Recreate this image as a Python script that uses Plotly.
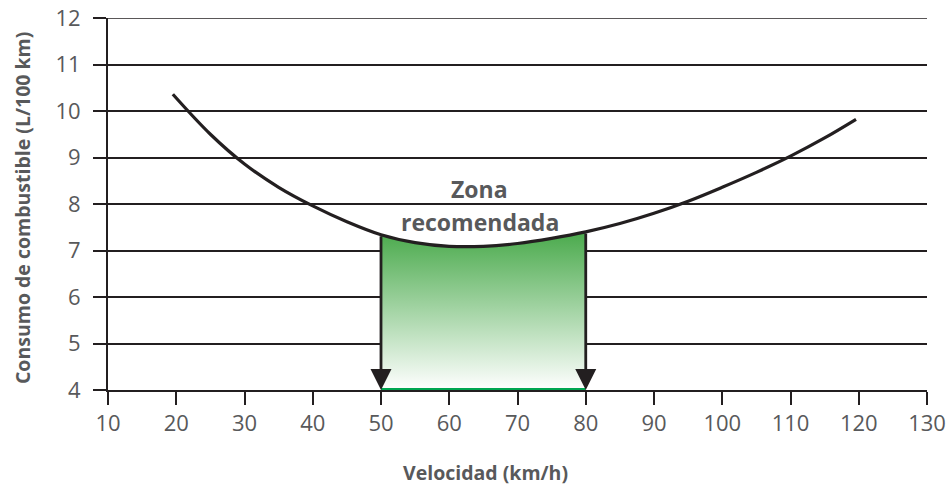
import plotly.graph_objects as go

# Data
speed_kmh = [19.5, 25, 30, 35, 40, 45, 50, 55, 60, 65, 70, 75, 80, 85, 90, 95, 100, 105, 110, 115, 119.6]
consumption = [10.36, 9.50, 8.86, 8.36, 7.96, 7.62, 7.34, 7.17, 7.09, 7.09, 7.15, 7.26, 7.40, 7.58, 7.80, 8.06, 8.36, 8.68, 9.03, 9.42, 9.82]
zone_start = 50
zone_end = 80
x_ticks = [10, 20, 30, 40, 50, 60, 70, 80, 90, 100, 110, 120, 130]
y_ticks = [4, 5, 6, 7, 8, 9, 10, 11, 12]
zone_label = ["Zona", "recomendada"]

INK = "#231f20"
GREY = "#58595b"
FONT = "Open Sans"

zx = [x for x in speed_kmh if zone_start <= x <= zone_end]
zy = [y for x, y in zip(speed_kmh, consumption) if zone_start <= x <= zone_end]
y_start = zy[0]
y_end = zy[-1]
ymin = y_ticks[0]
ymax = y_ticks[-1]

fig = go.Figure()

# baseline for the recommended-zone fill
fig.add_trace(go.Scatter(
    x=zx, y=[ymin] * len(zx), mode="lines", line=dict(width=0),
    hoverinfo="skip", showlegend=False,
))
fig.add_trace(go.Scatter(
    x=zx, y=zy, mode="lines", line=dict(width=0, shape="spline", smoothing=1.0),
    fill="tonexty",
    fillgradient=dict(type="vertical", colorscale=[[0, "#ffffff"], [1, "#4aaa4c"]],
                      start=ymin, stop=max(zy)),
    hoverinfo="skip", showlegend=False,
))

fig.add_trace(go.Scatter(
    x=speed_kmh, y=consumption, mode="lines",
    line=dict(color=INK, width=3.2, shape="spline", smoothing=1.0),
    showlegend=False,
))

fig.add_trace(go.Scatter(
    x=[zone_start, zone_end], y=[ymin, ymin], mode="lines",
    line=dict(color="#00a651", width=4), cliponaxis=False, showlegend=False,
))

for xv, yv in [(zone_start, y_start), (zone_end, y_end)]:
    fig.add_annotation(x=xv, y=ymin, ax=xv, ay=yv, xref="x", yref="y",
                       axref="x", ayref="y", showarrow=True, text="",
                       arrowhead=2, arrowsize=1.5, arrowwidth=2.8, arrowcolor=INK)

fig.add_annotation(x=64.5, y=8.32, text="<b>%s</b>" % zone_label[0], showarrow=False,
                   font=dict(family=FONT, size=23, color=GREY))
fig.add_annotation(x=64.5, y=7.62, text="<b>%s</b>" % zone_label[1], showarrow=False,
                   font=dict(family=FONT, size=23, color=GREY))

# axis titles
fig.add_annotation(xref="paper", yref="paper", x=(22 - 108) / 819, y=0.489,
                   xanchor="center", yanchor="middle",
                   text="<b>Consumo de combustible (L/100 km)</b>", textangle=-90,
                   showarrow=False, font=dict(family=FONT, size=19.5, color=GREY))
fig.add_annotation(xref="paper", yref="paper", x=(485 - 108) / 819, y=(390 - 472) / 372,
                   xanchor="center", yanchor="middle",
                   text="<b>Velocidad (km/h)</b>", showarrow=False,
                   font=dict(family=FONT, size=19.5, color=GREY))

# top gridline (plotly drops gridlines lying on the plot edge)
fig.add_shape(type="line", xref="paper", x0=0, x1=1, yref="y", y0=ymax, y1=ymax,
              line=dict(color=INK, width=1.6), layer="below")

fig.update_layout(
    width=950, height=486,
    margin=dict(l=108, r=23, t=18, b=96, autoexpand=False),
    paper_bgcolor="white", plot_bgcolor="white",
    font=dict(family=FONT, color=GREY),
    showlegend=False,
    xaxis=dict(
        range=[10, 130], tickvals=x_ticks, ticktext=[str(v) for v in x_ticks],
        showgrid=False, zeroline=False, automargin=False,
        showline=True, linecolor=INK, linewidth=2,
        ticks="outside", ticklen=13, tickwidth=2, tickcolor=INK,
        tickfont=dict(family=FONT, size=22, color=GREY),
        ticklabeloverflow="allow",
        layer="below traces",
    ),
    yaxis=dict(
        range=[ymin, ymax], tickvals=y_ticks, ticktext=[str(v) for v in y_ticks],
        showgrid=True, gridcolor=INK, gridwidth=1.6, zeroline=False, automargin=False,
        showline=True, linecolor=INK, linewidth=2,
        ticks="outside", ticklen=13, tickwidth=1.6, tickcolor=INK,
        tickfont=dict(family=FONT, size=22, color=GREY),
        ticklabelstandoff=8, ticklabeloverflow="allow",
        layer="below traces",
    ),
)

fig.write_html("out.html", config={"displayModeBar": False},
               post_script="document.body.style.margin='0';document.body.style.overflow='hidden';")
